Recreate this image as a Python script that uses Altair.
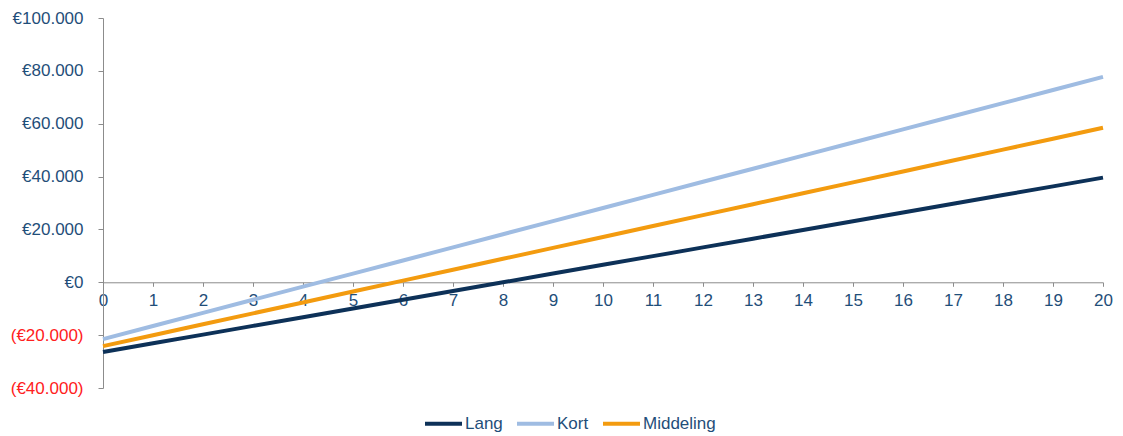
import altair as alt
import pandas as pd

years = list(range(21))
lang = [-26400, -23100, -19800, -16500, -13200, -9900, -6600, -3300, 0, 3300, 6600,
        9900, 13200, 16500, 19800, 23100, 26400, 29700, 33000, 36300, 39600]
kort = [-21500, -16540, -11580, -6620, -1660, 3300, 8260, 13220, 18180, 23140, 28100,
        33060, 38020, 42980, 47940, 52900, 57860, 62820, 67780, 72740, 77700]
middeling = [-24150, -20020, -15890, -11760, -7630, -3500, 630, 4760, 8890, 13020, 17150,
             21280, 25410, 29540, 33670, 37800, 41930, 46060, 50190, 54320, 58450]
series_names = ["Lang", "Kort", "Middeling"]
series_colors = ["#0d3158", "#9fbce2", "#f39b0f"]
y_ticks = [-40000, -20000, 0, 20000, 40000, 60000, 80000, 100000]

rows = []
for name, vals in zip(series_names, [lang, kort, middeling]):
    for x, v in zip(years, vals):
        rows.append({"Jaar": x, "Waarde": v, "Scenario": name})
df = pd.DataFrame(rows)

W, H = 1000, 370
ymin, ymax = -40000, 100000
offset_x = -H * (0 - ymin) / (ymax - ymin)

text_col = "#1f4e79"
font = "Liberation Sans"

chart = alt.Chart(df).mark_line(strokeWidth=4).encode(
    x=alt.X("Jaar:Q",
            scale=alt.Scale(domain=[0, 20], nice=False),
            axis=alt.Axis(title=None, values=years, format="d", grid=False,
                          offset=offset_x, domainColor="#8c8c8c", tickColor="#8c8c8c",
                          tickSize=4, labelPadding=6, labelFontSize=17, labelFont=font,
                          labelColor=text_col, labelFlush=False)),
    y=alt.Y("Waarde:Q",
            scale=alt.Scale(domain=[ymin, ymax], nice=False),
            axis=alt.Axis(title=None, values=y_ticks, grid=False,
                          labelExpr="datum.value < 0 ? '(€' + replace(format(-datum.value, ','), ',', '.') + ')' : '€' + replace(format(datum.value, ','), ',', '.')",
                          labelColor={"condition": {"test": "datum.value < 0", "value": "#ff2020"}, "value": text_col},
                          domainColor="#8c8c8c", tickColor="#8c8c8c", tickSize=5,
                          labelPadding=15, labelFontSize=17, labelFont=font)),
    color=alt.Color("Scenario:N",
                    scale=alt.Scale(domain=series_names, range=series_colors),
                    sort=series_names,
                    legend=alt.Legend(title=None, orient="none", direction="horizontal",
                                      legendX=320, legendY=385,
                                      symbolType="stroke", symbolSize=1369,
                                      symbolStrokeWidth=4, labelFontSize=17,
                                      labelFont=font, labelColor=text_col,
                                      labelOffset=1, columnPadding=6)),
).properties(
    width=W, height=H,
    autosize=alt.AutoSizeParams(type="none"),
    padding={"left": 103, "top": 18, "right": 20, "bottom": 48},
).configure(background="white").configure_view(stroke=None)

chart.save("out.html", embed_options={"renderer": "svg", "actions": False})
